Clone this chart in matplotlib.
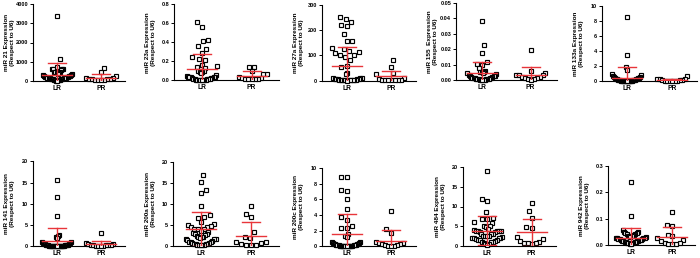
import numpy as np
import matplotlib
matplotlib.use('Agg')
import matplotlib.pyplot as plt

plt.rcParams['font.family'] = ['Liberation Sans', 'DejaVu Sans']

# ---------------- data ----------------
groups = ['LR', 'PR']
sublabel = '(Respect to U6)'
titles = ['miR 21 Expression', 'miR 23a Expression', 'miR 27a Expression',
          'miR 155  Expression', 'miR 133a Expression', 'miR 141 Expression',
          'miR 200a Expression', 'miR 200c Expression', 'miR 484 Expression',
          'miR 942 Expression']

yticks = [[0, 1000, 2000, 3000, 4000], [0, 0.2, 0.4, 0.6, 0.8], [0, 100, 200, 300],
          [0, 0.01, 0.02, 0.03, 0.04, 0.05], [0, 2, 4, 6, 8, 10], [0, 5, 10, 15, 20],
          [0, 5, 10, 15, 20], [0, 2, 4, 6, 8, 10], [0, 5, 10, 15, 20], [0, 0.1, 0.2, 0.3]]
yticklabels = [['0', '1000', '2000', '3000', '4000'], ['0.0', '0.2', '0.4', '0.6', '0.8'],
               ['0', '100', '200', '300'], ['0.00', '0.01', '0.02', '0.03', '0.04', '0.05'],
               ['0', '2', '4', '6', '8', '10'], ['0', '5', '10', '15', '20'],
               ['0', '5', '10', '15', '20'], ['0', '2', '4', '6', '8', '10'],
               ['0', '5', '10', '15', '20'], ['0.0', '0.1', '0.2', '0.3']]

lr_mir21 = [3400, 1120, 750, 640, 620, 610, 600, 590, 480, 460, 450, 430, 400, 380, 350, 330,
            300, 280, 260, 250, 230, 210, 200, 190, 180, 170, 160, 150, 140, 130, 120, 110,
            100, 90, 80, 70, 60, 50, 40, 30, 20, 10]
pr_mir21 = [650, 480, 260, 180, 150, 120, 100, 90, 80, 70, 60, 50, 40]

lr_mir23a = [0.61, 0.56, 0.42, 0.41, 0.36, 0.33, 0.29, 0.25, 0.22, 0.21, 0.16, 0.15, 0.14,
             0.13, 0.10, 0.10, 0.09, 0.09, 0.08, 0.06, 0.05, 0.04, 0.04, 0.035, 0.03, 0.03,
             0.025, 0.02, 0.02, 0.015, 0.015, 0.01, 0.01, 0.01, 0.008, 0.006, 0.005, 0.004,
             0.003, 0.002, 0.002, 0.001]
pr_mir23a = [0.14, 0.14, 0.10, 0.07, 0.065, 0.035, 0.02, 0.02, 0.015, 0.015, 0.012, 0.01, 0.01]

lr_mir27a = [252, 245, 232, 218, 214, 184, 158, 156, 130, 124, 116, 113, 108, 103, 100, 93,
             80, 57, 54, 30, 28, 12, 10, 9, 8, 7, 6, 5, 5, 4, 4, 3, 3, 2, 2, 2, 1.5, 1, 1,
             0.8, 0.5]
pr_mir27a = [82, 53, 29, 27, 9, 5, 4, 3, 3, 2, 2, 1, 1]

lr_mir155 = [0.0385, 0.0227, 0.0178, 0.0115, 0.0102, 0.0098, 0.0078, 0.0058, 0.0056, 0.0055,
             0.0053, 0.0050, 0.0045, 0.004, 0.0035, 0.003, 0.0028, 0.0025, 0.0022, 0.002,
             0.0018, 0.0016, 0.0015, 0.0014, 0.0012, 0.0011, 0.001, 0.0009, 0.0008, 0.0007,
             0.0006, 0.0005, 0.0004, 0.0003, 0.0002, 0.0001]
pr_mir155 = [0.0195, 0.0063, 0.005, 0.0036, 0.0034, 0.0033, 0.0022, 0.002, 0.0018, 0.0012,
             0.001, 0.0008, 0.0005]

lr_mir133a = [8.55, 3.5, 1.95, 1.5, 0.9, 0.85, 0.65, 0.6, 0.55, 0.5, 0.45, 0.4, 0.35, 0.3,
              0.28, 0.25, 0.22, 0.2, 0.18, 0.16, 0.14, 0.12, 0.1, 0.09, 0.08, 0.07, 0.06,
              0.05, 0.04, 0.03, 0.02, 0.01, 0.01, 0.005]
pr_mir133a = [0.7, 0.35, 0.3, 0.25, 0.2, 0.15, 0.12, 0.1, 0.08, 0.06, 0.05, 0.03, 0.02]

lr_mir141 = [15.5, 11.6, 7.1, 2.7, 2.5, 2.3, 1.9, 1.0, 0.9, 0.8, 0.7, 0.6, 0.5, 0.45, 0.4,
             0.35, 0.3, 0.28, 0.25, 0.22, 0.2, 0.18, 0.16, 0.14, 0.12, 0.1, 0.09, 0.08,
             0.07, 0.06, 0.05, 0.04, 0.03, 0.02, 0.01, 0.01, 0.005]
pr_mir141 = [3.1, 0.8, 0.5, 0.45, 0.4, 0.35, 0.3, 0.25, 0.2, 0.15, 0.1, 0.08, 0.05]

lr_mir200a = [17.0, 15.2, 13.4, 12.6, 9.5, 7.4, 6.8, 6.6, 5.6, 5.1, 4.9, 4.7, 4.6, 4.4, 4.1,
              4.0, 3.9, 3.6, 3.3, 3.0, 2.8, 2.7, 2.5, 2.3, 2.2, 2.1, 2.0, 1.8, 1.7, 1.6, 1.5,
              1.3, 1.1, 1.0, 0.9, 0.8, 0.7, 0.6, 0.5, 0.4, 0.35, 0.3, 0.25, 0.2, 0.15, 0.1,
              0.05]
pr_mir200a = [9.5, 7.7, 7.0, 3.2, 2.0, 1.9, 1.0, 0.9, 0.6, 0.4, 0.2, 0.1, 0.05]

lr_mir200c = [8.9, 8.9, 7.2, 7.1, 6.0, 4.8, 3.75, 3.4, 2.65, 2.4, 2.35, 1.6, 1.3, 1.2, 0.6,
              0.5, 0.45, 0.4, 0.35, 0.3, 0.28, 0.25, 0.22, 0.2, 0.18, 0.15, 0.13, 0.12, 0.1,
              0.09, 0.08, 0.07, 0.06, 0.05, 0.04, 0.03, 0.02, 0.01, 0.01, 0.005]
pr_mir200c = [4.45, 2.15, 1.7, 0.5, 0.45, 0.4, 0.3, 0.25, 0.2, 0.15, 0.1, 0.08, 0.05]

lr_mir484 = [19.0, 11.9, 11.5, 8.7, 7.1, 6.9, 6.7, 6.1, 5.9, 5.1, 4.9, 4.8, 4.3, 3.9, 3.85,
             3.8, 3.75, 3.7, 3.65, 3.6, 3.55, 3.1, 3.0, 2.9, 2.6, 2.55, 2.5, 2.45, 2.1, 2.0,
             1.95, 1.9, 1.85, 1.8, 1.5, 1.45, 1.4, 1.1, 1.0, 0.95, 0.9, 0.6, 0.5, 0.4, 0.3]
pr_mir484 = [10.9, 8.8, 7.0, 4.8, 4.6, 2.3, 1.7, 1.2, 1.0, 0.8, 0.7, 0.6, 0.5]

lr_mir942 = [0.237, 0.111, 0.058, 0.05, 0.048, 0.047, 0.045, 0.042, 0.04, 0.038, 0.036, 0.035,
             0.034, 0.033, 0.032, 0.03, 0.028, 0.027, 0.026, 0.025, 0.024, 0.022, 0.021, 0.02,
             0.019, 0.018, 0.017, 0.016, 0.015, 0.014, 0.013, 0.012, 0.011, 0.01, 0.009,
             0.008, 0.007, 0.006, 0.005, 0.004]
pr_mir942 = [0.124, 0.077, 0.071, 0.038, 0.034, 0.025, 0.019, 0.014, 0.008, 0.006, 0.005,
             0.004, 0.003]

lr_values = [lr_mir21, lr_mir23a, lr_mir27a, lr_mir155, lr_mir133a,
             lr_mir141, lr_mir200a, lr_mir200c, lr_mir484, lr_mir942]
pr_values = [pr_mir21, pr_mir23a, pr_mir27a, pr_mir155, pr_mir133a,
             pr_mir141, pr_mir200a, pr_mir200c, pr_mir484, pr_mir942]

# mean and SD
lr_mean = [320, 0.116, 59, 0.0049, 0.45, 1.25, 4.0, 1.57, 3.8, 0.0265]
lr_sd = [600, 0.158, 75, 0.0071, 1.5, 3.0, 4.0, 2.5, 3.7, 0.038]
pr_mean = [180, 0.042, 17, 0.0034, 0.18, 0.5, 2.4, 0.72, 3.4, 0.032]
pr_sd = [180, 0.056, 22, 0.005, 0.17, 0.7, 3.2, 1.4, 3.4, 0.035]

# ---------------- layout (pixels: left, right, top, bottom) ----------------
W_PX, H_PX = 700, 258
rects = [(33, 125, 4, 81), (174, 279, 4.3, 80.3), (322, 416, 4.7, 80.7),
         (456, 557, 2.7, 80.3), (602, 697, 5.7, 81.3),
         (33, 125, 161.3, 246.3), (173, 279, 162.3, 245.7), (322, 416, 168, 246.3),
         (463, 556, 167.3, 245.7), (608, 695, 165.7, 245)]

RED = '#e8353a'


def swarm(ypx, dx0, dy0, wmax):
    ys = np.asarray(ypx, float) * dx0 / dy0
    d = dx0
    n = len(ys)
    xs = np.zeros(n)
    placed = []
    for k, i in enumerate(np.argsort(ys, kind='stable')):
        y = ys[i]
        cands = [0.0]
        for j in placed:
            dy = abs(y - ys[j])
            if dy < d:
                dx = np.sqrt(d * d - dy * dy)
                cands += [xs[j] + dx, xs[j] - dx]
        sgn = 1 if k % 2 == 0 else -1
        cands.sort(key=lambda c: (round(abs(c), 4), -sgn * c))
        for c in cands:
            ok = True
            for j in placed:
                if (c - xs[j]) ** 2 + (y - ys[j]) ** 2 < d * d - 1e-6:
                    ok = False
                    break
            if ok:
                xs[i] = c
                break
        placed.append(i)
    out = xs.copy()
    for i in range(n):
        band = np.abs(ys - ys[i]) < d
        m = np.max(np.abs(xs[band]))
        if m > wmax:
            out[i] = xs[i] * wmax / m
    return out


fig = plt.figure(figsize=(W_PX / 100, H_PX / 100), dpi=100)

for p in range(10):
    left, right, top, bottom = rects[p]
    ax = fig.add_axes([left / W_PX, 1 - bottom / H_PX, (right - left) / W_PX,
                       (bottom - top) / H_PX])
    ymax = yticks[p][-1]
    ax.set_xlim(-0.55, 1.55)
    ax.set_ylim(0, ymax)
    pxx = (right - left) / 2.1
    pxy = (bottom - top) / ymax

    series = [lr_values[p], pr_values[p]]
    means = [lr_mean[p], pr_mean[p]]
    sds = [lr_sd[p], pr_sd[p]]
    for g in range(2):
        vals = np.asarray(series[g], float)
        xo = swarm(vals * pxy, 5.6, 8.0, 15.0)
        ax.plot(g + xo / pxx, vals, 's', ms=3.1, mfc='white', mec='black', mew=0.85,
                clip_on=False, zorder=3)
        m, s = means[g], sds[g]
        hw, cw = 15 / pxx, 9 / pxx
        ax.plot([g - hw, g + hw], [m, m], color=RED, lw=1.0, zorder=4)
        ax.plot([g, g], [m - s, m + s], color=RED, lw=1.0, zorder=4)
        ax.plot([g - cw, g + cw], [m + s, m + s], color=RED, lw=1.0, zorder=4)
        ax.plot([g - cw, g + cw], [m - s, m - s], color=RED, lw=1.0, zorder=4)

    for sp in ['top', 'right']:
        ax.spines[sp].set_visible(False)
    for sp in ['left', 'bottom']:
        ax.spines[sp].set_linewidth(0.8)
    ax.set_yticks(yticks[p])
    ax.set_yticklabels(yticklabels[p], fontsize=4, fontweight='bold')
    ax.set_xticks([0, 1])
    ax.set_xticklabels(groups, fontsize=4.8, fontweight='bold')
    ax.tick_params(axis='y', length=2.5, width=0.7, pad=1)
    ax.tick_params(axis='x', length=0, pad=3)
    ax.patch.set_alpha(0)

    fig.text((left - 23) / W_PX, 1 - (top + bottom) / 2 / H_PX,
             titles[p] + '\n' + sublabel, rotation=90, ha='center', va='center',
             fontsize=4.6, fontweight='bold', linespacing=1.25, multialignment='center')

fig.savefig('out.png', dpi=100)
